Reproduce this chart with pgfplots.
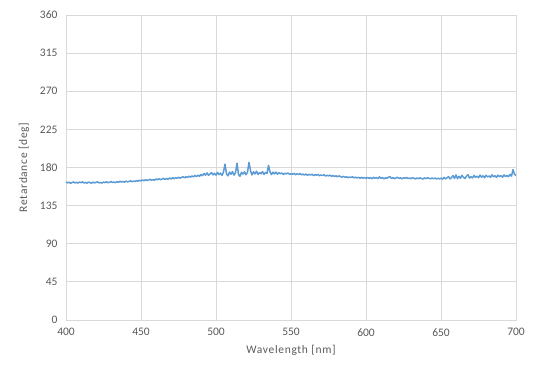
\documentclass[border=0pt]{standalone}
\usepackage{fontspec}
\setmainfont{Carlito}
\newfontfamily\lblfont[LetterSpace=6]{Carlito}
\usepackage{pgfplots}
\pgfplotsset{compat=1.18}
\definecolor{gridgray}{HTML}{D9D9D9}
\definecolor{txtgray}{HTML}{595959}
\definecolor{lineblue}{HTML}{5B9BD5}
\begin{document}
\begin{tikzpicture}
\path[use as bounding box] (-66pt,-60pt) rectangle (474pt,320pt);
\begin{axis}[
  at={(0,0)}, anchor=south west,
  scale only axis, width=450pt, height=305pt,
  xmin=400, xmax=700, ymin=0, ymax=360,
  xtick={400,450,...,700}, ytick={0,45,...,360},
  grid=major, major grid style={draw=gridgray, line width=0.8pt},
  axis line style={draw=gridgray, line width=0.8pt},
  tick style={draw=none},
  /pgf/number format/assume math mode=true,
  ticklabel style={font=\fontsize{11.5}{13}\selectfont, text=txtgray},
  xticklabel style={yshift=-5pt},
  yticklabel style={xshift=-5pt},
  xlabel={Wavelength [nm]}, ylabel={Retardance [deg]},
  label style={font=\lblfont\fontsize{11.5}{13}\selectfont, text=txtgray},
  xlabel style={yshift=-2pt},
  ylabel style={yshift=4pt},
]
\addplot[lineblue, line width=1.5pt, line join=round] table[row sep=\\] {
400 162.9\\ 401 161.9\\ 402 162.6\\ 403 161.4\\ 404 162.2\\ 405 163.0\\ 406 161.8\\ 407 162.5\\ 408 161.6\\ 409 162.8\\
410 162.1\\ 411 163.1\\ 412 161.7\\ 413 162.4\\ 414 161.5\\ 415 162.9\\ 416 162.0\\ 417 161.6\\ 418 162.7\\ 419 161.8\\
420 162.5\\ 421 163.0\\ 422 161.9\\ 423 162.3\\ 424 161.6\\ 425 162.8\\ 426 162.1\\ 427 163.2\\ 428 162.0\\ 429 162.6\\
430 163.4\\ 431 162.3\\ 432 162.9\\ 433 162.1\\ 434 163.3\\ 435 162.6\\ 436 163.7\\ 437 162.8\\ 438 163.5\\ 439 162.7\\
440 163.9\\ 441 163.0\\ 442 163.6\\ 443 164.2\\ 444 163.3\\ 445 164.0\\ 446 163.4\\ 447 164.6\\ 448 163.8\\ 449 164.9\\
450 164.2\\ 451 165.3\\ 452 164.4\\ 453 165.6\\ 454 164.7\\ 455 165.2\\ 456 166.1\\ 457 165.0\\ 458 165.8\\ 459 164.9\\
460 166.4\\ 461 165.6\\ 462 166.8\\ 463 165.7\\ 464 166.3\\ 465 167.2\\ 466 166.0\\ 467 166.9\\ 468 166.2\\ 469 167.6\\
470 166.5\\ 471 167.9\\ 472 166.8\\ 473 168.0\\ 474 167.2\\ 475 168.6\\ 476 167.4\\ 477 168.3\\ 478 169.2\\ 479 167.9\\
480 169.0\\ 481 168.2\\ 482 169.8\\ 483 168.6\\ 484 170.1\\ 485 168.9\\ 486 170.6\\ 487 169.3\\ 488 171.0\\ 489 169.6\\
490 171.8\\ 491 170.4\\ 492 172.9\\ 493 171.0\\ 494 173.6\\ 495 170.8\\ 496 172.4\\ 497 174.0\\ 498 171.3\\ 499 173.2\\
500 170.9\\ 501 174.2\\ 502 171.6\\ 503 173.4\\ 504 170.6\\ 505 174.8\\ 506 184.0\\ 507 172.5\\ 508 170.2\\ 509 174.6\\
510 172.0\\ 511 175.2\\ 512 171.0\\ 513 173.8\\ 514 185.0\\ 515 171.8\\ 516 169.6\\ 517 174.4\\ 518 172.2\\ 519 175.0\\
520 171.4\\ 521 174.6\\ 522 186.0\\ 523 176.5\\ 524 171.2\\ 525 174.9\\ 526 172.4\\ 527 175.6\\ 528 171.8\\ 529 174.0\\
530 172.6\\ 531 175.2\\ 532 171.9\\ 533 174.3\\ 534 173.0\\ 535 182.5\\ 536 174.8\\ 537 171.6\\ 538 174.5\\ 539 172.4\\
540 174.6\\ 541 172.1\\ 542 173.9\\ 543 172.6\\ 544 173.4\\ 545 171.8\\ 546 173.2\\ 547 172.5\\ 548 173.6\\ 549 171.9\\
550 172.8\\ 551 172.0\\ 552 173.1\\ 553 171.5\\ 554 172.6\\ 555 171.7\\ 556 172.9\\ 557 171.3\\ 558 172.2\\ 559 171.0\\
560 172.4\\ 561 170.8\\ 562 171.9\\ 563 171.2\\ 564 172.0\\ 565 170.5\\ 566 171.6\\ 567 170.9\\ 568 171.8\\ 569 170.3\\
570 171.2\\ 571 170.5\\ 572 171.5\\ 573 169.9\\ 574 170.8\\ 575 170.1\\ 576 171.0\\ 577 169.6\\ 578 170.5\\ 579 169.4\\
580 170.3\\ 581 169.0\\ 582 170.1\\ 583 169.3\\ 584 168.6\\ 585 169.5\\ 586 168.4\\ 587 169.2\\ 588 168.0\\ 589 168.8\\
590 168.2\\ 591 169.0\\ 592 167.8\\ 593 168.6\\ 594 167.6\\ 595 168.5\\ 596 167.3\\ 597 168.4\\ 598 167.5\\ 599 168.2\\
600 167.0\\ 601 168.3\\ 602 167.1\\ 603 168.0\\ 604 166.8\\ 605 168.4\\ 606 167.4\\ 607 168.1\\ 608 166.9\\ 609 169.0\\
610 167.2\\ 611 168.2\\ 612 166.7\\ 613 167.9\\ 614 167.2\\ 615 168.6\\ 616 169.3\\ 617 167.0\\ 618 168.1\\ 619 166.8\\
620 167.7\\ 621 168.5\\ 622 167.1\\ 623 167.9\\ 624 166.6\\ 625 167.8\\ 626 167.2\\ 627 168.3\\ 628 167.0\\ 629 167.6\\
630 166.8\\ 631 167.9\\ 632 167.3\\ 633 166.6\\ 634 167.6\\ 635 166.9\\ 636 167.8\\ 637 167.0\\ 638 166.5\\ 639 167.7\\
640 166.9\\ 641 168.0\\ 642 167.2\\ 643 166.7\\ 644 167.5\\ 645 166.8\\ 646 167.6\\ 647 166.4\\ 648 167.3\\ 649 166.6\\
650 167.4\\ 651 166.2\\ 652 168.4\\ 653 166.5\\ 654 167.9\\ 655 169.2\\ 656 166.6\\ 657 168.0\\ 658 170.4\\ 659 167.1\\
660 171.2\\ 661 166.8\\ 662 169.6\\ 663 167.4\\ 664 170.8\\ 665 168.2\\ 666 167.0\\ 667 169.9\\ 668 171.6\\ 669 167.5\\
670 169.0\\ 671 167.8\\ 672 170.6\\ 673 168.4\\ 674 169.8\\ 675 168.0\\ 676 171.0\\ 677 168.6\\ 678 170.2\\ 679 167.9\\
680 170.8\\ 681 168.9\\ 682 170.0\\ 683 168.3\\ 684 171.4\\ 685 169.0\\ 686 170.2\\ 687 168.4\\ 688 170.9\\ 689 169.2\\
690 170.4\\ 691 168.6\\ 692 171.2\\ 693 169.3\\ 694 170.6\\ 695 169.1\\ 696 171.8\\ 697 169.8\\ 698 177.5\\ 699 172.0\\
700 170.6\\
};
\end{axis}
\end{tikzpicture}
\end{document}
